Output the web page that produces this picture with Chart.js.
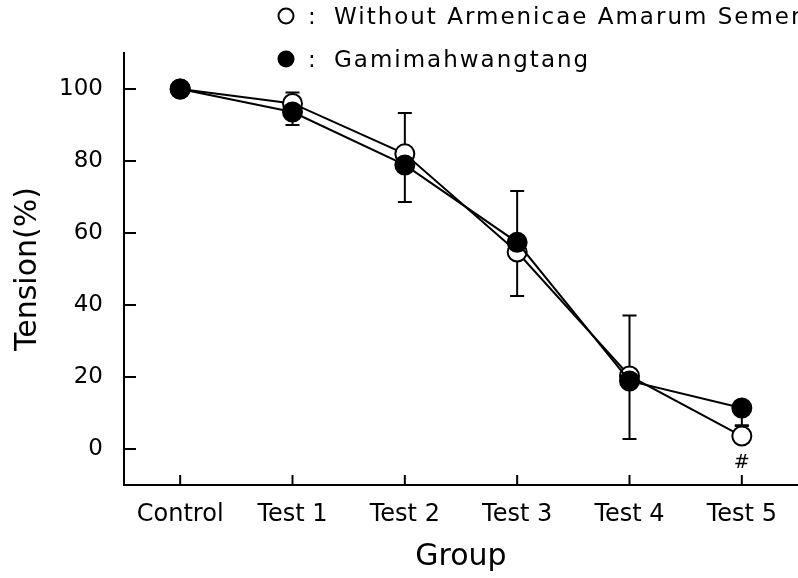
<!DOCTYPE html>
<html>
<head>
<meta charset="utf-8">
<script src="https://cdn.jsdelivr.net/npm/chart.js@4.4.1/dist/chart.umd.min.js"></script>
<style>
  html, body { margin: 0; padding: 0; background: #fff; }
  #chart { display: block; }
</style>
</head>
<body>
<canvas id="chart" width="798" height="578"></canvas>
<script>
// datos
const groups = ['Control', 'Test 1', 'Test 2', 'Test 3', 'Test 4', 'Test 5'];
const yTicks = [0, 20, 40, 60, 80, 100];

const withoutAAS = [100, 96, 82, 54.7, 20.3, 3.6];      // circulos abiertos
const withoutAASErr = [0, 3, 11.3, 17, 16.8, 3];          // barra hacia arriba
const gamima = [100, 93.6, 78.9, 57.4, 18.9, 11.4];      // circulos llenos
const gamimaErr = [0, 3.6, 10.3, 14.9, 16.1, 5];         // barra hacia abajo
const marks = ['', '', '', '', '', '#'];

const FONT = "'DejaVu Sans', sans-serif";
Chart.defaults.font.family = FONT;
Chart.defaults.color = '#000';

// barras de error (una direccion por serie)
const errorBars = {
  id: 'errorBars',
  beforeDatasetsDraw(chart) {
    const { ctx, scales: { x, y } } = chart;
    ctx.save();
    ctx.strokeStyle = '#000';
    ctx.lineWidth = 2;
    chart.data.datasets.forEach(ds => {
      ds.data.forEach((v, i) => {
        const e = ds.err[i];
        if (!e) return;
        const px = x.getPixelForValue(i);
        const y0 = y.getPixelForValue(v);
        const y1 = y.getPixelForValue(v + ds.dir * e);
        ctx.beginPath();
        ctx.moveTo(px, y0);
        ctx.lineTo(px, y1);
        ctx.moveTo(px - 7, y1);
        ctx.lineTo(px + 7, y1);
        ctx.stroke();
      });
    });
    ctx.restore();
  },
  afterDraw(chart) {
    const { ctx, scales: { x, y }, chartArea } = chart;
    ctx.save();
    ctx.strokeStyle = '#000';
    ctx.lineWidth = 2;
    // marcas hacia adentro
    yTicks.forEach(v => {
      const py = y.getPixelForValue(v);
      ctx.beginPath();
      ctx.moveTo(chartArea.left, py);
      ctx.lineTo(chartArea.left + 12, py);
      ctx.stroke();
    });
    groups.forEach((g, i) => {
      const px = x.getPixelForValue(i);
      ctx.beginPath();
      ctx.moveTo(px, chartArea.bottom);
      ctx.lineTo(px, chartArea.bottom - 10);
      ctx.stroke();
    });
    // simbolo de significancia
    ctx.fillStyle = '#000';
    ctx.font = "italic 19px " + FONT;
    ctx.textAlign = 'center';
    ctx.textBaseline = 'middle';
    marks.forEach((m, i) => {
      if (m) ctx.fillText(m, x.getPixelForValue(i), y.getPixelForValue(-4));
    });

    // leyenda
    const rows = [chart.data.datasets[1], chart.data.datasets[0]];
    const rowY = [16, 59];
    ctx.font = "23px " + FONT;
    ctx.textAlign = 'left';
    if ('letterSpacing' in ctx) ctx.letterSpacing = '2px';
    rows.forEach((ds, k) => {
      ctx.beginPath();
      ctx.arc(286, rowY[k], 7.5, 0, Math.PI * 2);
      ctx.fillStyle = ds.pointBackgroundColor;
      ctx.fill();
      ctx.stroke();
      ctx.fillStyle = '#000';
      ctx.fillText(':', 308, rowY[k] + 2);
      ctx.fillText(ds.label, 334, rowY[k] + 2);
    });
    ctx.restore();
  }
};

new Chart(document.getElementById('chart'), {
  type: 'line',
  data: {
    labels: groups,
    datasets: [{
      label: 'Gamimahwangtang',
      data: gamima,
      err: gamimaErr,
      dir: -1,
      borderColor: '#000',
      borderWidth: 2,
      pointRadius: 9.5,
      pointBackgroundColor: '#000',
      pointBorderColor: '#000',
      pointBorderWidth: 2,
      tension: 0
    }, {
      label: 'Without Armenicae Amarum Semen',
      data: withoutAAS,
      err: withoutAASErr,
      dir: 1,
      borderColor: '#000',
      borderWidth: 2,
      pointRadius: 9.5,
      pointBackgroundColor: '#fff',
      pointBorderColor: '#000',
      pointBorderWidth: 2,
      tension: 0
    }]
  },
  options: {
    responsive: false,
    animation: false,
    layout: { autoPadding: false, padding: { top: 53, left: 0, right: 0, bottom: 0 } },
    plugins: {
      legend: { display: false },
      tooltip: { enabled: false }
    },
    scales: {
      x: {
        type: 'category',
        offset: true,
        grid: { display: false, drawTicks: false },
        border: { display: true, color: '#000', width: 2 },
        ticks: { font: { size: 24 }, padding: 15, color: '#000', maxRotation: 0 },
        title: { display: true, text: 'Group', font: { size: 30 }, padding: { top: 0, bottom: 3 } },
        afterFit(scale) { scale.height = 93; }
      },
      y: {
        min: -10,
        max: 110,
        grid: { display: false, drawTicks: false },
        border: { display: true, color: '#000', width: 2 },
        ticks: { font: { size: 23 }, padding: 21, color: '#000' },
        afterBuildTicks(scale) { scale.ticks = yTicks.map(v => ({ value: v })); },
        title: { display: true, text: 'Tension(%)', font: { size: 30 }, padding: { top: 10, bottom: 0 } },
        afterFit(scale) { scale.width = 124; }
      }
    }
  },
  plugins: [errorBars]
});
</script>
</body>
</html>
